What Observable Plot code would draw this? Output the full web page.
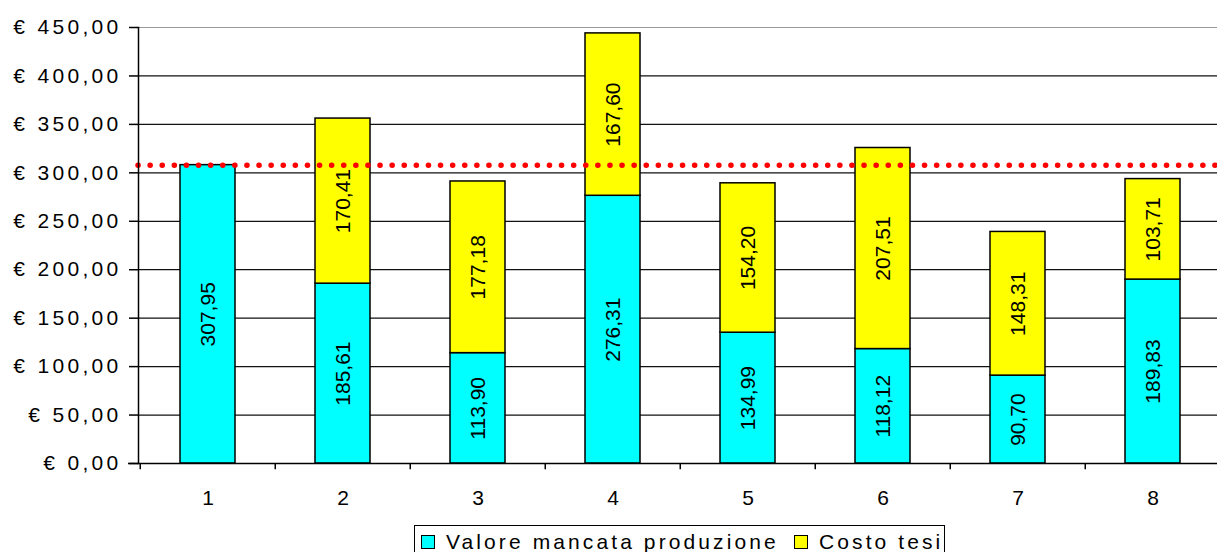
<!DOCTYPE html>
<html>
<head>
<meta charset="utf-8">
<script src="https://cdn.jsdelivr.net/npm/d3@7"></script>
<script src="https://cdn.jsdelivr.net/npm/@observablehq/plot@0.6"></script>
<style>
  html, body { margin: 0; padding: 0; background: #fff; width: 1217px; height: 552px; overflow: hidden; }
  #chart { position: absolute; left: 0; top: 0; }
  #legend { position: absolute; left: 414px; top: 525px; width: 531px; height: 40px; border: 1.5px solid #000; box-sizing: border-box;
            font-family: "Liberation Sans", Arial, sans-serif; font-size: 21px; letter-spacing: 3.1px; color: #000; white-space: nowrap; }
  .item { position: absolute; top: 4px; }
  .sw { display: inline-block; width: 12px; height: 12px; border: 1.5px solid #000; vertical-align: 0px; margin-right: 11px; }
</style>
</head>
<body>
<div id="chart"></div>
<div id="legend">
  <span class="item" style="left:6px"><span class="sw" style="background:#00ffff"></span>Valore mancata produzione</span>
  <span class="item" style="left:379px"><span class="sw" style="background:#ffff00"></span>Costo tesi</span>
</div>
<script>
const categories = ["1", "2", "3", "4", "5", "6", "7", "8"];
const valoreMancata = [307.95, 185.61, 113.90, 276.31, 134.99, 118.12, 90.70, 189.83];
const costoTesi = [0, 170.41, 177.18, 167.60, 154.20, 207.51, 148.31, 103.71];
const seriesNames = ["Valore mancata produzione", "Costo tesi"];
const seriesColors = ["#00ffff", "#ffff00"];
const yTicks = [0, 50, 100, 150, 200, 250, 300, 350, 400, 450];
const referenceLine = 307.95;

const data = [];
categories.forEach((c, i) => data.push({cat: c, series: seriesNames[0], value: valoreMancata[i]}));
categories.forEach((c, i) => data.push({cat: c, series: seriesNames[1], value: costoTesi[i]}));

const fmt = v => v.toFixed(2).replace(".", ",");
const font = "Liberation Sans, Arial, sans-serif";

const plot = Plot.plot({
  width: 1217,
  height: 520,
  marginTop: 27,
  marginBottom: 57,
  marginLeft: 138,
  marginRight: 0,
  style: {fontFamily: font, fontSize: "21px", color: "#000", background: "#fff"},
  x: {domain: categories, range: [138, 1222], paddingInner: 0.595, paddingOuter: 0.2975, label: null},
  y: {domain: [0, 450], label: null},
  color: {domain: seriesNames, range: seriesColors},
  marks: [
    Plot.ruleY(yTicks.filter(d => d > 0 && d < 450), {stroke: "#111", strokeWidth: 1.2}),
    Plot.ruleY([450], {stroke: "#999", strokeWidth: 1.2}),
    Plot.barY(data, Plot.stackY({x: "cat", y: "value", fill: "series", stroke: "#000", strokeWidth: 1.5, order: null})),
    Plot.text(data, Plot.stackY({x: "cat", y: "value", z: "series", text: d => d.value > 0 ? fmt(d.value) : "", rotate: -90, fontSize: 21, fill: "#000", order: null})),
    Plot.ruleY([referenceLine], {stroke: "#ff0000", strokeWidth: 5.5, strokeDasharray: "0.1,12", strokeLinecap: "round"}),
    Plot.frame({anchor: "left", stroke: "#000", strokeWidth: 1.5}),
    Plot.ruleY([0], {stroke: "#000", strokeWidth: 1.5, insetLeft: -10}),
    Plot.ruleX(categories, {x: d => d, y1: 0, y2: -6.5, dx: -67.75, stroke: "#000", strokeWidth: 1.5}),
    Plot.axisY({ticks: yTicks, tickSize: 9, tickPadding: 8, tickFormat: d => "€ " + fmt(d), fontSize: 21, stroke: "#000", strokeWidth: 1.5}),
    Plot.axisX({tickSize: 0, tickPadding: 27, fontSize: 21})
  ]
});
document.getElementById("chart").appendChild(plot);
d3.select(plot).selectAll('g[aria-label="y-axis tick label"] text').attr("letter-spacing", "3.3px");
</script>
</body>
</html>
